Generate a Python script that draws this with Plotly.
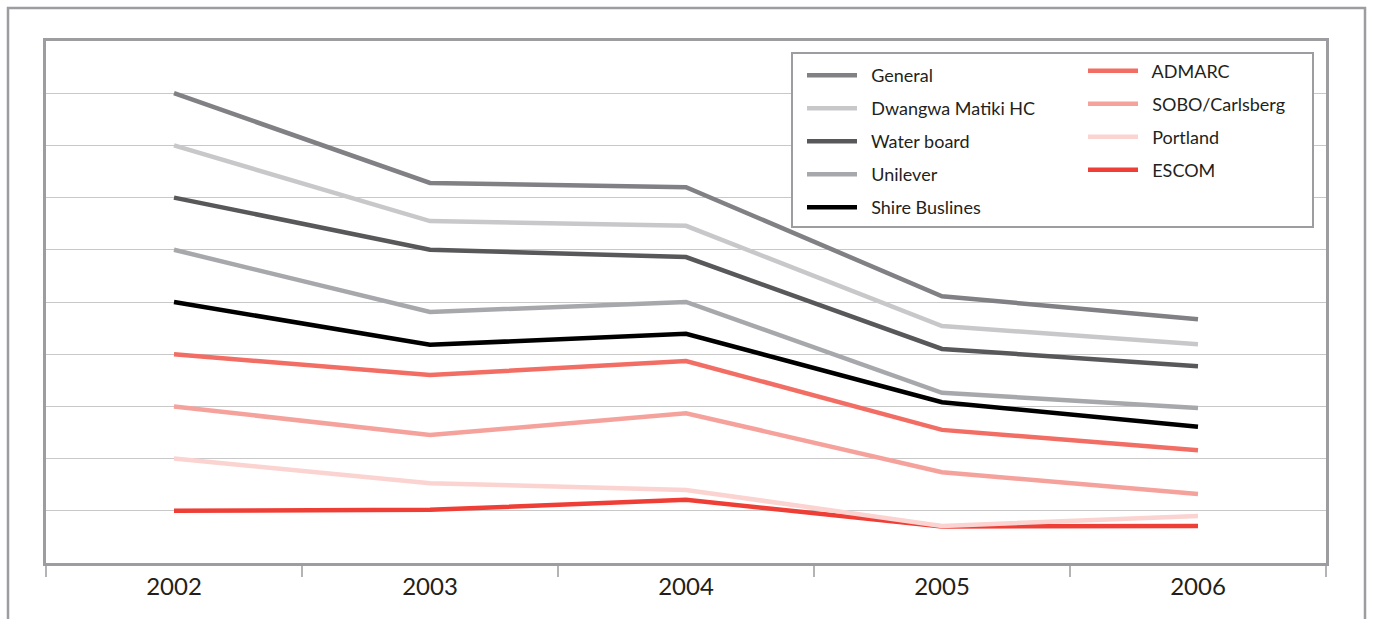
import plotly.graph_objects as go

years = ["2002", "2003", "2004", "2005", "2006"]

general = [9.00, 7.28, 7.20, 5.11, 4.67]
dwangwa = [8.00, 6.55, 6.46, 4.54, 4.19]
water_board = [7.00, 6.00, 5.86, 4.10, 3.77]
unilever = [6.00, 4.81, 5.00, 3.26, 2.97]
shire = [5.00, 4.18, 4.39, 3.08, 2.61]
admarc = [4.00, 3.60, 3.87, 2.55, 2.16]
sobo = [3.00, 2.45, 2.87, 1.74, 1.32]
portland = [2.00, 1.53, 1.40, 0.71, 0.90]
escom = [1.00, 1.02, 1.21, 0.70, 0.71]

left_series = [
    ("General", general, "#808085"),
    ("Dwangwa Matiki HC", dwangwa, "#c8c8ca"),
    ("Water board", water_board, "#58585b"),
    ("Unilever", unilever, "#a7a8ab"),
    ("Shire Buslines", shire, "#000000"),
]
right_series = [
    ("ADMARC", admarc, "#f26e64"),
    ("SOBO/Carlsberg", sobo, "#f6a29c"),
    ("Portland", portland, "#fbd3d0"),
    ("ESCOM", escom, "#ee3e36"),
]

W, H = 1373, 619
ML, MR, MT, MB = 46, 47, 41, 56
PW, PH = W - ML - MR, H - MT - MB


def px_x(p):
    return (p - ML) / PW


def px_y(p):
    return (H - MB - p) / PH


fig = go.Figure()

# draw the light lines first so the darker ones sit on top where they meet
draw_order = right_series[::-1] + left_series[::-1]
legend_of = {n: "legend" for n, _, _ in left_series}
legend_of.update({n: "legend2" for n, _, _ in right_series})
rank = {n: i for i, (n, _, _) in enumerate(left_series + right_series)}
PAD = "\u00a0\u00a0"  # a little air between the legend swatch and its label

for name, vals, color in draw_order:
    fig.add_trace(go.Scatter(
        x=years, y=vals, name=PAD + name, mode="lines",
        line=dict(color=color, width=4.5),
        legend=legend_of[name], legendgroup=name, legendrank=rank[name],
        hoverinfo="skip",
    ))

legend_common = dict(
    font=dict(family="Lato", size=18, color="#231f20"),
    bgcolor="rgba(0,0,0,0)", borderwidth=0,
    itemwidth=50, traceorder="grouped", tracegroupgap=6.6,
    xanchor="left", yanchor="top",
)

fig.update_layout(
    width=W, height=H,
    margin=dict(l=ML, r=MR, t=MT, b=MB),
    paper_bgcolor="white", plot_bgcolor="white",
    showlegend=True,
    legend=dict(x=px_x(802), y=px_y(57), **legend_common),
    legend2=dict(x=px_x(1083), y=px_y(52.5), **legend_common),
    xaxis=dict(
        type="category", range=[-0.5, 4.5],
        tickson="boundaries", ticks="outside", ticklen=11, tickwidth=1.5,
        tickcolor="#b4b4b6",
        showline=True, mirror=True, linecolor="#9d9da1", linewidth=2.5,
        showgrid=False,
        tickfont=dict(family="Lato", size=24, color="#231f20"),
    ),
    yaxis=dict(
        range=[0, 10], dtick=1, showticklabels=False,
        showgrid=True, gridcolor="#c8c8c8", gridwidth=1,
        zeroline=False,
        showline=True, mirror=True, linecolor="#9d9da1", linewidth=2.5,
    ),
    shapes=[
        # outer frame
        dict(type="rect", xref="paper", yref="paper",
             x0=px_x(8), x1=px_x(1365), y0=px_y(640), y1=px_y(8),
             line=dict(color="#9d9da1", width=2.5), layer="below"),
        # legend box
        dict(type="rect", xref="paper", yref="paper",
             x0=px_x(792), x1=px_x(1313), y0=px_y(227), y1=px_y(53),
             line=dict(color="#9d9da1", width=2), fillcolor="white",
             layer="above"),
    ],
)

fig.write_html("out.html")
